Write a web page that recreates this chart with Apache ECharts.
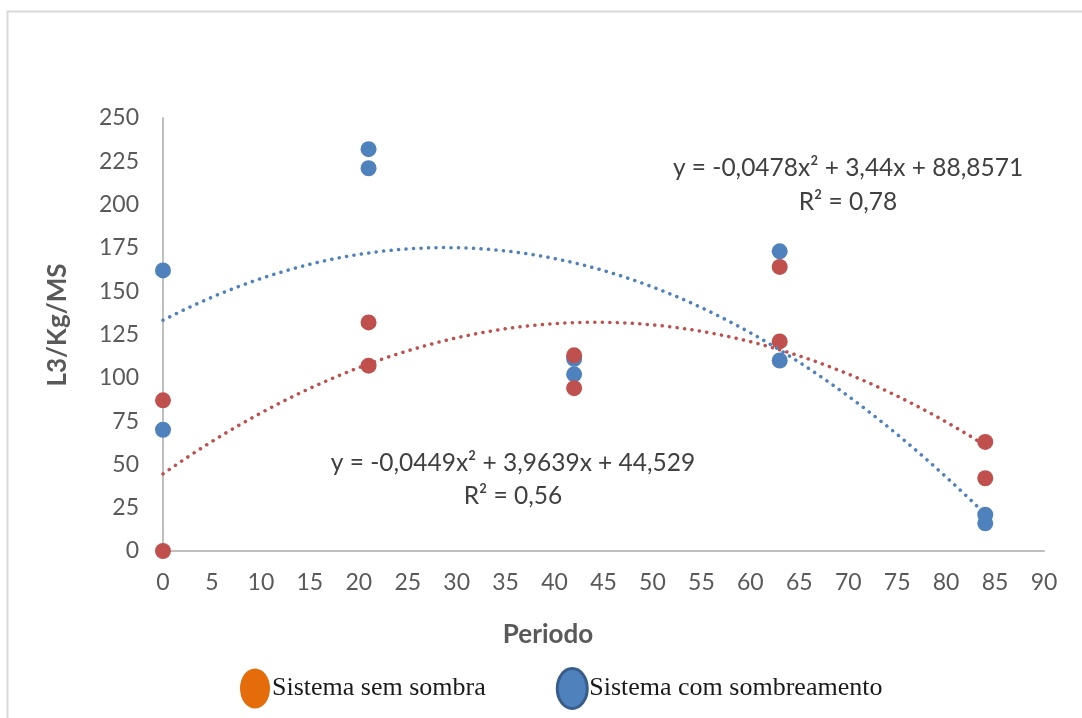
<!DOCTYPE html>
<html>
<head>
<meta charset="utf-8">
<script src="https://cdn.jsdelivr.net/npm/echarts@6/dist/echarts.min.js"></script>
<style>
html,body{margin:0;padding:0;background:#fff;}
#chart{width:1082px;height:718px;}
</style>
</head>
<body>
<div id="chart"></div>
<script>
// ---- data ----
const seriesNames = ['Sistema sem sombra', 'Sistema com sombreamento'];
const semSombraX = [0, 0, 21, 21, 42, 42, 63, 63, 84, 84];
const semSombraY = [87, 0, 132, 107, 113, 94, 164, 121, 63, 42];
const comSombraX = [0, 0, 21, 21, 42, 42, 63, 63, 84, 84];
const comSombraY = [162, 70, 232, 221, 111, 102, 173, 110, 21, 16];
const eqSemSombra = ['y = -0,0449x² + 3,9639x + 44,529', 'R² = 0,56'];
const eqComSombra = ['y = -0,0478x² + 3,44x + 88,8571', 'R² = 0,78'];
const xTicks = [0, 90, 5];
const yTicks = [0, 250, 25];
const axisNames = ['Periodo', 'L3/Kg/MS'];

// least-squares quadratic (polynomial trendline, order 2)
function quadFit(xs, ys) {
  let S = [0,0,0,0,0], T = [0,0,0];
  for (let i = 0; i < xs.length; i++) {
    let p = 1;
    for (let k = 0; k < 5; k++) { S[k] += p; if (k < 3) T[k] += p * ys[i]; p *= xs[i]; }
  }
  const A = [[S[0],S[1],S[2],T[0]],[S[1],S[2],S[3],T[1]],[S[2],S[3],S[4],T[2]]];
  for (let c = 0; c < 3; c++) {
    for (let r = c + 1; r < 3; r++) {
      const f = A[r][c] / A[c][c];
      for (let k = c; k < 4; k++) A[r][k] -= f * A[c][k];
    }
  }
  const b = [0,0,0];
  for (let r = 2; r >= 0; r--) {
    let s = A[r][3];
    for (let k = r + 1; k < 3; k++) s -= A[r][k] * b[k];
    b[r] = s / A[r][r];
  }
  return b;
}
function trend(xs, ys) {
  const b = quadFit(xs, ys);
  const lo = Math.min(...xs), hi = Math.max(...xs), out = [];
  for (let x = lo; x <= hi; x += 0.5) out.push([x, b[0] + b[1]*x + b[2]*x*x]);
  return out;
}
const zip = (a, b) => a.map((v, i) => [v, b[i]]);

const RED = '#C0504D', BLUE = '#4F81BD';
const sansFont = 'Lato';
const ellipse = 'path://M0,-1A1,1,0,1,1,0,1A1,1,0,1,1,0,-1Z';
const chart = echarts.init(document.getElementById('chart'));
chart.setOption({
  backgroundColor: '#fff',
  animation: false,
  grid: { left: 163, top: 118, right: 38, bottom: 167 },
  xAxis: {
    type: 'value', min: xTicks[0], max: xTicks[1], interval: xTicks[2],
    axisLine: { show: true, lineStyle: { color: '#BFBFBF', width: 2 } },
    axisTick: { show: false },
    splitLine: { show: false },
    axisLabel: { fontFamily: sansFont, fontSize: 23, color: '#595959', margin: 20 }
  },
  yAxis: {
    type: 'value', min: yTicks[0], max: yTicks[1], interval: yTicks[2],
    axisLine: { show: true, lineStyle: { color: '#BFBFBF', width: 2 } },
    axisTick: { show: false },
    splitLine: { show: false },
    axisLabel: { fontFamily: sansFont, fontSize: 23, color: '#595959', margin: 24 }
  },
  legend: {
    left: 235, top: 662, itemWidth: 30, itemHeight: 40, itemGap: 70,
    symbolKeepAspect: false,
    textStyle: { fontFamily: 'Liberation Serif', fontSize: 26, color: '#1a1a1a', padding: [0, 0, 0, -3] },
    data: [
      { name: seriesNames[0], icon: ellipse, symbolKeepAspect: false, itemStyle: { color: '#E46C0A', borderWidth: 0 } },
      { name: seriesNames[1], icon: ellipse, symbolKeepAspect: false, itemStyle: { color: BLUE, borderColor: '#385D8A', borderWidth: 3 } }
    ]
  },
  series: [
    { name: seriesNames[1], type: 'scatter', symbolSize: 16, z: 2,
      itemStyle: { color: BLUE, opacity: 1 }, data: zip(comSombraX, comSombraY) },
    { name: seriesNames[0], type: 'scatter', symbolSize: 16, z: 3,
      itemStyle: { color: RED, opacity: 1 }, data: zip(semSombraX, semSombraY) },
    { name: 'trend-sem', type: 'line', showSymbol: false, silent: true, z: 4,
      lineStyle: { color: RED, width: 3.5, type: [0.1, 7.4], cap: 'round' },
      data: trend(semSombraX, semSombraY) },
    { name: 'trend-com', type: 'line', showSymbol: false, silent: true, z: 4,
      lineStyle: { color: BLUE, width: 3.5, type: [0.1, 7.4], cap: 'round' },
      data: trend(comSombraX, comSombraY) }
  ],
  graphic: [
    { type: 'rect', z: -1, shape: { x: 7.5, y: 11.5, width: 1200, height: 800 },
      style: { fill: 'none', stroke: '#D9D9D9', lineWidth: 2 } },
    { type: 'text', x: 548, y: 635, style: { text: axisNames[0], fontFamily: sansFont, fontWeight: 'bold', fontSize: 26, fill: '#595959', align: 'center', verticalAlign: 'middle' } },
    { type: 'text', x: 58, y: 325, rotation: Math.PI / 2, style: { text: axisNames[1], fontFamily: sansFont, fontWeight: 'bold', fontSize: 26, fill: '#595959', align: 'center', verticalAlign: 'middle' } },
    { type: 'text', x: 848, y: 168, style: { text: eqComSombra[0], fontFamily: sansFont, fontSize: 24.5, fill: '#404040', align: 'center', verticalAlign: 'middle' } },
    { type: 'text', x: 848, y: 202, style: { text: eqComSombra[1], fontFamily: sansFont, fontSize: 24.5, fill: '#404040', align: 'center', verticalAlign: 'middle' } },
    { type: 'text', x: 513, y: 463, style: { text: eqSemSombra[0], fontFamily: sansFont, fontSize: 24.5, fill: '#404040', align: 'center', verticalAlign: 'middle' } },
    { type: 'text', x: 513, y: 496, style: { text: eqSemSombra[1], fontFamily: sansFont, fontSize: 24.5, fill: '#404040', align: 'center', verticalAlign: 'middle' } }
  ]
});
</script>
</body>
</html>
